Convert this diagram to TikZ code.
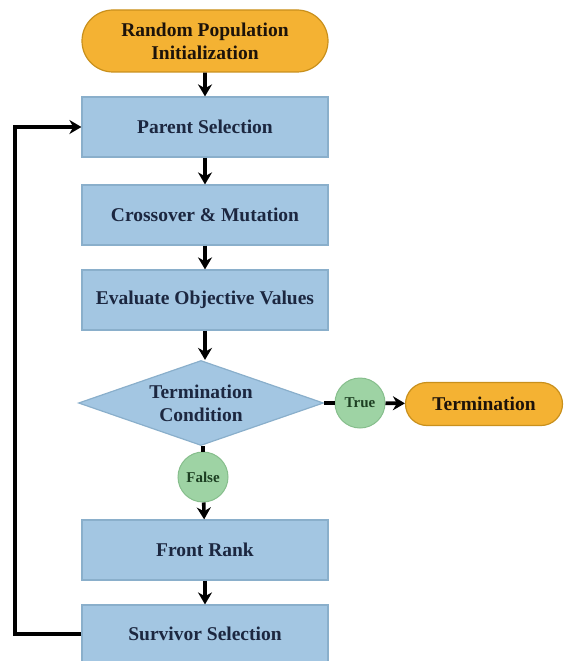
\documentclass[tikz,border=0pt]{standalone}
\usepackage{fontspec}
\setmainfont{Liberation Serif}
\usetikzlibrary{shapes.geometric,shapes.misc,arrows.meta}
\definecolor{boxblue}{HTML}{A3C6E2}
\definecolor{boxedge}{HTML}{8AAFCB}
\definecolor{gold}{HTML}{F4B233}
\definecolor{goldedge}{HTML}{C9901C}
\definecolor{navy}{HTML}{1C2740}
\definecolor{leaf}{HTML}{9ED3A4}
\definecolor{leafedge}{HTML}{86BE8C}
\definecolor{darkleaf}{HTML}{1D3F22}
\begin{document}
\begin{tikzpicture}[x=1pt,y=-1pt,
  every node/.style={font=\fontsize{19.5}{23}\selectfont\bfseries},
  procbox/.style={rectangle,draw=boxedge,line width=1.2pt,fill=boxblue,minimum width=246pt,minimum height=60pt,text=navy,inner sep=0pt},
  stadium/.style={rounded rectangle,draw=goldedge,line width=1.2pt,fill=gold,text=black!85!brown,inner sep=0pt,align=center},
  decision/.style={diamond,draw=boxedge,line width=1.2pt,fill=boxblue,text=navy,align=center,aspect=2.9,inner sep=0pt,minimum width=245pt,minimum height=85pt},
  flag/.style={circle,draw=leafedge,line width=1pt,fill=leaf,text=darkleaf,minimum size=50pt,inner sep=0pt,font=\fontsize{15}{17}\selectfont\bfseries},
  arr/.style={-{Stealth[length=12pt,width=14pt]},line width=3.6pt,black},
  ln/.style={line width=3.6pt,black}]
\useasboundingbox (0,0) rectangle (571,661);
\node[stadium,minimum width=246pt,minimum height=62pt] (init) at (205,41) {Random Population\\Initialization};
\node[procbox] (parent) at (205,127) {Parent Selection};
\node[procbox] (cross) at (205,215) {Crossover \& Mutation};
\node[procbox] (eval) at (205,300) {Evaluate Objective Values};
\node[decision] (term) at (201,403) {Termination\\Condition};
\node[flag] (true) at (360,403) {True};
\node[stadium,minimum width=157pt,minimum height=43pt] (end) at (484,404) {Termination};
\node[flag] (false) at (203,477) {False};
\node[procbox] (front) at (205,550) {Front Rank};
\node[procbox,minimum height=58pt] (surv) at (205,634) {Survivor Selection};
\coordinate (lb) at (15,634);
\coordinate (lt) at (15,127);
\draw[arr] (init) -- (parent);
\draw[arr] (parent) -- (cross);
\draw[arr] (cross) -- (eval);
\draw[arr] (eval.south) -- (eval.south |- term.north);
\draw[ln] (term.east) -- (true.west);
\draw[arr] (true) -- (end);
\draw[ln] (term.south -| false.north) -- (false.north);
\draw[arr] (false) -- (front);
\draw[arr] (front) -- (surv);
\draw[ln] (surv.west) -- (lb) -- (lt);
\draw[arr] ([xshift=-1.8pt]lt) -- (parent.west);
\end{tikzpicture}
\end{document}
